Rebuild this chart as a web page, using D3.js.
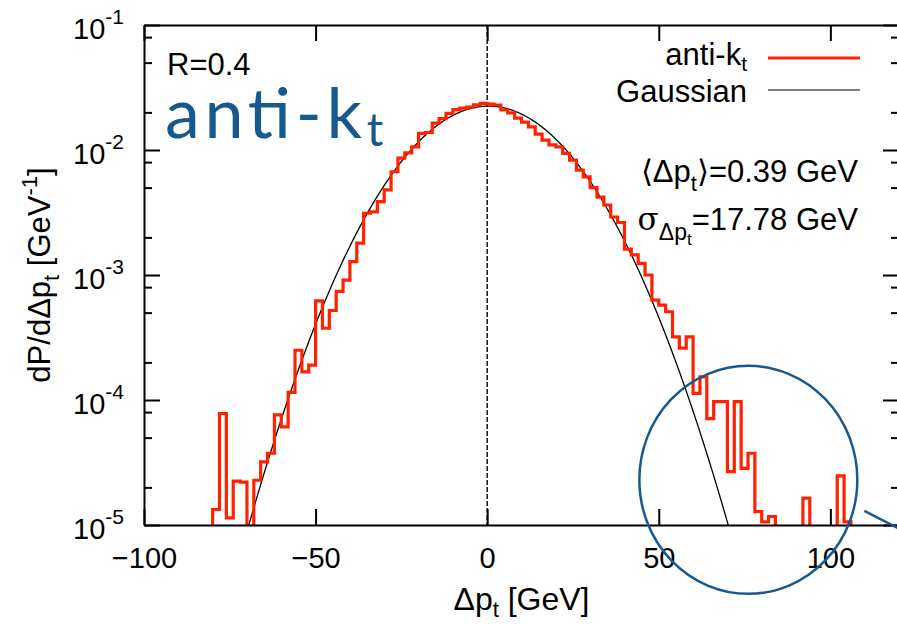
<!DOCTYPE html>
<html>
<head>
<meta charset="utf-8">
<script src="https://cdn.jsdelivr.net/npm/d3@7"></script>
<style>
  body { margin: 0; background: #fff; }
  svg { display: block; font-family: "Liberation Sans", Arial, Helvetica, sans-serif; }
  .axis path, .axis line { stroke: #000; stroke-width: 2; }
  .axis text { font-size: 29px; fill: #000; font-family: "Liberation Sans", Arial, sans-serif; }
  .lbl { font-size: 31px; }
</style>
</head>
<body>
<svg id="chart" width="897" height="625"></svg>
<script>
// delta pt histogram, 2 GeV bins, first bin starts at -80 GeV
const binStart = -80;
const binWidth = 2;
// bins from -80 up to 0
const densityNeg = [
  1.33e-5, 7.8e-5, 1.14e-5, 2.24e-5, 2.2e-5, 0, 2.28e-5, 3.2e-5, 3.75e-5, 7.6e-5,
  6.1e-5, 1.15e-4, 2.5e-4, 1.68e-4, 1.9e-4, 6.2e-4, 3.75e-4, 5.2e-4, 7.4e-4, 9.1e-4,
  1.28e-3, 1.8e-3, 3.12e-3, 3.2e-3, 3.86e-3, 4.8e-3, 6.7e-3, 8.6e-3, 9.5e-3, 1.06e-2,
  1.36e-2, 1.38e-2, 1.64e-2, 1.78e-2, 1.96e-2, 2.1e-2, 2.16e-2, 2.2e-2, 2.3e-2, 2.36e-2
];
// bins from 0 up to 106
const densityPos = [
  2.33e-2, 2.29e-2, 2.09e-2, 1.98e-2, 1.8e-2, 1.67e-2, 1.53e-2, 1.34e-2, 1.2e-2, 1.1e-2,
  1.06e-2, 9.4e-3, 8.3e-3, 6.9e-3, 6.1e-3, 5.0e-3, 4.2e-3, 3.63e-3, 2.91e-3, 2.63e-3,
  1.61e-3, 1.45e-3, 1.24e-3, 1.0e-3, 6.3e-4, 5.75e-4, 5.08e-4, 3.2e-4, 2.6e-4, 3.2e-4,
  1.13e-4, 1.53e-4, 7.1e-5, 9.7e-5, 9.7e-5, 2.67e-5, 9.7e-5, 2.84e-5, 3.75e-5, 1.28e-5,
  1.06e-5, 1.17e-5, 0, 0, 0, 0, 1.64e-5, 0, 0, 0,
  0, 2.47e-5, 1.06e-5
];
// gaussian fit quoted on the plot
const fitMean = 0.39;
const fitSigma = 17.78;

const xTicks = [-100, -50, 0, 50, 100];
const yTicks = [1e-5, 1e-4, 1e-3, 1e-2, 1e-1];
const minorSteps = [2, 5, 8];

const red = "#ff2200";
const blue = "#17598f";

const svg = d3.select("#chart");
const pLeft = 144, pRight = 899, pTop = 25, pBottom = 525;

const x = d3.scaleLinear().domain([-100, 120]).range([pLeft, pRight]);
const y = d3.scaleLog().domain([1e-5, 1e-1]).range([pBottom, pTop]);

const yMinor = [];
yTicks.slice(0, -1).forEach(d => minorSteps.forEach(m => yMinor.push(d * m)));

svg.append("defs").append("clipPath").attr("id", "plot")
  .append("rect").attr("x", pLeft).attr("y", pTop)
  .attr("width", pRight - pLeft).attr("height", pBottom - pTop);

// dashed line at zero
svg.append("line")
  .attr("x1", x(0)).attr("x2", x(0)).attr("y1", pTop).attr("y2", pBottom)
  .attr("stroke", "#000").attr("stroke-width", 1.4).attr("stroke-dasharray", "5,2");

// gaussian curve
const gx = d3.range(-100, 120.01, 0.25);
const gauss = v => Math.exp(-((v - fitMean) ** 2) / (2 * fitSigma * fitSigma)) / (fitSigma * Math.sqrt(2 * Math.PI));
svg.append("path")
  .attr("clip-path", "url(#plot)")
  .attr("d", d3.line().x(d => x(d)).y(d => Math.min(y(Math.max(gauss(d), 1e-7)), pBottom + 20))(gx))
  .attr("fill", "none").attr("stroke", "#000").attr("stroke-width", 1.3);

// histogram steps
const density = densityNeg.concat(densityPos);
const yy = v => v > 0 ? y(v) : pBottom + 10;
const pts = [[x(binStart), pBottom + 10]];
density.forEach((v, i) => {
  const a = binStart + i * binWidth;
  pts.push([x(a), yy(v)], [x(a + binWidth), yy(v)]);
});
pts.push([x(binStart + density.length * binWidth), pBottom + 10]);
svg.append("path")
  .attr("clip-path", "url(#plot)")
  .attr("d", d3.line()(pts))
  .attr("fill", "none").attr("stroke", red).attr("stroke-width", 3.2)
  .attr("stroke-linejoin", "miter");

// axes
svg.append("g").attr("class", "axis").attr("transform", `translate(0,${pBottom})`)
  .call(d3.axisBottom(x).tickValues(xTicks).tickSizeInner(-16).tickSizeOuter(0).tickPadding(22).tickFormat(d3.format("d")));
svg.append("g").attr("class", "axis").attr("transform", `translate(0,${pTop})`)
  .call(d3.axisTop(x).tickValues(xTicks).tickSizeInner(-16).tickSizeOuter(0).tickFormat(""));

const yl = svg.append("g").attr("class", "axis").attr("transform", `translate(${pLeft},0)`)
  .call(d3.axisLeft(y).tickValues(yTicks).tickSizeInner(-16).tickSizeOuter(0).tickPadding(20).tickFormat(""));
yl.selectAll(".tick text").each(function(d) {
  const t = d3.select(this).attr("dy", "0.45em");
  t.append("tspan").text("10");
  t.append("tspan").attr("dy", -15).style("font-size", "21px").text(String(Math.round(Math.log10(d))));
});
svg.append("g").attr("class", "axis").attr("transform", `translate(${pLeft},0)`)
  .call(d3.axisLeft(y).tickValues(yMinor).tickSizeInner(-8).tickSizeOuter(0).tickFormat(""))
  .select(".domain").remove();
svg.append("g").attr("class", "axis").attr("transform", `translate(${pRight},0)`)
  .call(d3.axisRight(y).tickValues(yTicks).tickSizeInner(-16).tickSizeOuter(0).tickFormat(""));
svg.append("g").attr("class", "axis").attr("transform", `translate(${pRight},0)`)
  .call(d3.axisRight(y).tickValues(yMinor).tickSizeInner(-8).tickSizeOuter(0).tickFormat(""))
  .select(".domain").remove();

// axis titles
const xt = svg.append("text").attr("class", "lbl").attr("x", (pLeft + pRight) / 2).attr("y", 610)
  .attr("text-anchor", "middle").style("font-size", "32px");
xt.append("tspan").text("Δp");
xt.append("tspan").attr("dy", 7).style("font-size", "22px").text("t");
xt.append("tspan").attr("dy", -7).text(" [GeV]");

const ytl = svg.append("text").attr("class", "lbl").attr("transform", `translate(50,${(pTop + pBottom) / 2}) rotate(-90)`)
  .attr("text-anchor", "middle");
ytl.append("tspan").text("dP/dΔp");
ytl.append("tspan").attr("dy", 9).style("font-size", "22px").text("t");
ytl.append("tspan").attr("dy", -9).text(" [GeV");
ytl.append("tspan").attr("dy", -13).style("font-size", "22px").text("-1");
ytl.append("tspan").attr("dy", 13).text("]");

// labels inside the plot
svg.append("text").attr("class", "lbl").attr("x", 167).attr("y", 75).text("R=0.4");
const ak = svg.append("text").attr("x", 165).attr("y", 138)
  .style("font-family", "Lato, 'Open Sans', sans-serif").attr("fill", blue);
ak.append("tspan").style("font-size", "70px").attr("textLength", 197).attr("lengthAdjust", "spacing").text("anti-k");
ak.append("tspan").attr("dy", 8).style("font-size", "46px").text("t");

// legend
const lg1 = svg.append("text").attr("class", "lbl").attr("x", 747).attr("y", 65).attr("text-anchor", "end");
lg1.append("tspan").text("anti-k");
lg1.append("tspan").attr("dy", 6).style("font-size", "21px").text("t");
svg.append("line").attr("x1", 768).attr("x2", 860).attr("y1", 58).attr("y2", 58)
  .attr("stroke", red).attr("stroke-width", 3.2);
svg.append("text").attr("class", "lbl").attr("x", 747).attr("y", 102).attr("text-anchor", "end").text("Gaussian");
svg.append("line").attr("x1", 768).attr("x2", 860).attr("y1", 90).attr("y2", 90)
  .attr("stroke", "#000").attr("stroke-width", 1);

// fit parameters
const m1 = svg.append("text").attr("class", "lbl").attr("x", 858).attr("y", 182).attr("text-anchor", "end");
m1.append("tspan").text("⟨Δp");
m1.append("tspan").attr("dy", 9).style("font-size", "22px").text("t");
m1.append("tspan").attr("dy", -9).text(`⟩=${fitMean} GeV`);
const m2 = svg.append("text").attr("class", "lbl").attr("x", 858).attr("y", 230).attr("text-anchor", "end");
m2.append("tspan").style("font-family", "'DejaVu Serif', serif").text("σ");
m2.append("tspan").attr("dy", 10).style("font-size", "23px").text("Δp");
m2.append("tspan").attr("dy", 5).style("font-size", "17px").text("t");
m2.append("tspan").attr("dy", -15).text(`=${fitSigma} GeV`);

// highlight circle on the tail
const cx = x(76.1), cy = y(2.3e-5);
svg.append("ellipse").attr("cx", cx).attr("cy", cy).attr("rx", 109).attr("ry", 114)
  .attr("fill", "none").attr("stroke", blue).attr("stroke-width", 2.5);
svg.append("line").attr("x1", cx + 116).attr("y1", cy + 31).attr("x2", cx + 180).attr("y2", cy + 64)
  .attr("stroke", blue).attr("stroke-width", 2.5);
</script>
</body>
</html>
